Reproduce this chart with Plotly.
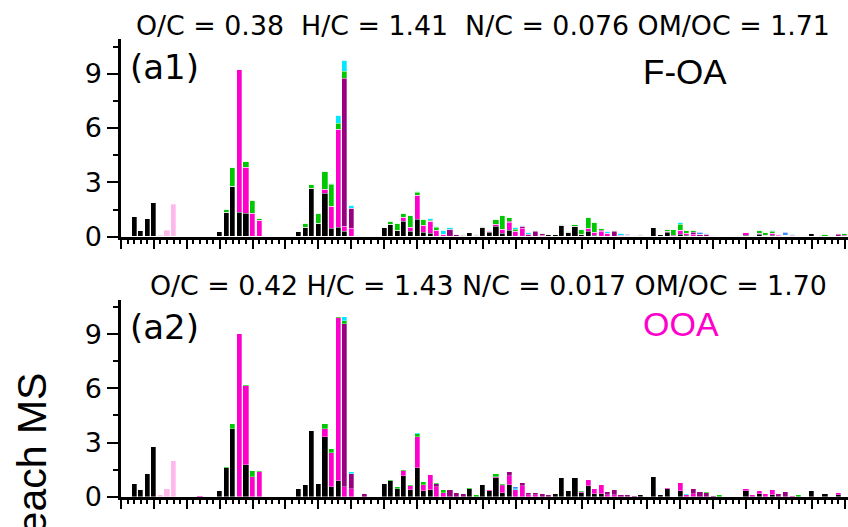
import plotly.graph_objects as go

# ---------------- data (m/z -> fraction of each MS, %) ----------------
MZ = list(range(12, 121))

FAMILIES = ["CH", "CHO1", "CHOgt1", "CHN", "CHO1N", "CHOgt1N", "HO"]
COLORS = {"CH": "#000000", "CHO1": "#FF00CC", "CHOgt1": "#990080",
          "CHN": "#00C800", "CHO1N": "#00E8FF", "CHOgt1N": "#3D8BFF", "HO": "#FFB8EC"}

# Panel a1 : F-OA
foa_CH = {12: 1.12, 13: 0.36, 14: 1.0, 15: 1.88, 25: 0.3, 26: 1.33, 27: 2.81, 28: 1.35, 29: 1.27,
          37: 0.3, 38: 0.52, 39: 2.68, 40: 0.74, 41: 2.42, 42: 0.44, 43: 0.54, 44: 0.28,
          48: 0.04, 50: 0.5, 51: 0.69, 52: 0.37, 53: 0.83, 54: 0.28, 55: 0.98, 56: 0.24, 57: 0.19,
          62: 0.07, 63: 0.25, 64: 0.08, 65: 0.5, 66: 0.22, 67: 0.59, 68: 0.19, 69: 0.33,
          75: 0.11, 76: 0.12, 77: 0.61, 78: 0.22, 79: 0.59, 80: 0.12, 81: 0.3, 82: 0.05,
          89: 0.1, 90: 0.05, 91: 0.52, 92: 0.11, 93: 0.22, 95: 0.15, 96: 0.1,
          103: 0.05, 105: 0.1, 106: 0.05, 107: 0.12, 108: 0.1, 109: 0.1, 111: 0.05, 115: 0.2, 118: 0.05}
foa_CHO1 = {22: 0.04, 28: 7.89, 29: 2.55, 30: 1.3, 31: 0.93, 32: 0.1, 41: 0.22, 42: 1.22, 43: 5.41,
            44: 0.3, 45: 0.44, 53: 0.24, 54: 0.24, 55: 1.33, 56: 0.37, 57: 0.68, 58: 0.37, 59: 0.15,
            66: 0.06, 67: 0.11, 68: 0.24, 69: 0.45, 70: 0.31, 71: 0.45, 74: 0.05, 80: 0.04, 81: 0.18,
            82: 0.17, 83: 0.3, 84: 0.17, 93: 0.07, 95: 0.22, 96: 0.1, 97: 0.12, 105: 0.12, 107: 0.08,
            109: 0.1, 110: 0.1}
foa_CHOgt1 = {44: 8.14, 45: 1.13, 47: 0.04, 49: 0.04, 60: 0.41, 61: 0.15, 69: 0.09, 71: 0.1,
              72: 0.15, 73: 0.3, 74: 0.12, 83: 0.05, 85: 0.3, 86: 0.1, 87: 0.1, 88: 0.05, 94: 0.05,
              97: 0.1, 98: 0.16, 99: 0.14, 100: 0.05, 104: 0.05, 110: 0.05, 112: 0.05, 113: 0.08,
              114: 0.05, 119: 0.12, 120: 0.05}
foa_CHN = {26: 0.2, 27: 1.0, 29: 0.34, 30: 0.73, 31: 0.09, 38: 0.2, 39: 0.22, 40: 0.56, 41: 0.95,
           42: 1.24, 43: 0.3, 44: 0.41, 51: 0.14, 52: 0.35, 53: 0.23, 54: 0.68, 55: 0.13, 56: 0.35,
           57: 0.04, 58: 0.17, 62: 0.05, 64: 0.04, 65: 0.05, 66: 0.09, 67: 0.28, 68: 0.76, 69: 0.2,
           70: 0.1, 73: 0.03, 75: 0.04, 77: 0.06, 78: 0.08, 79: 0.08, 80: 0.23, 81: 0.59, 82: 0.58,
           83: 0.13, 85: 0.03, 89: 0.05, 90: 0.03, 92: 0.04, 93: 0.1, 94: 0.34, 95: 0.3, 96: 0.17,
           97: 0.15, 103: 0.05, 104: 0.05, 106: 0.05, 107: 0.13, 108: 0.16, 109: 0.1, 117: 0.15,
           118: 0.05, 119: 0.08, 120: 0.12}
foa_CHO1N = {42: 0.07, 43: 0.48, 44: 0.63, 45: 0.19, 46: 0.05, 55: 0.09, 57: 0.12, 58: 0.06,
             59: 0.22, 60: 0.09, 70: 0.11, 71: 0.08, 72: 0.09, 84: 0.13, 86: 0.1, 95: 0.11, 99: 0.06,
             109: 0.07, 112: 0.1}
foa_CHOgt1N = {87: 0.05, 98: 0.06, 111: 0.17}
foa_HO = {16: 0.08, 17: 0.37, 18: 1.77}

# Panel a2 : OOA
ooa_CH = {12: 0.72, 13: 0.35, 14: 1.28, 15: 2.77, 25: 0.3, 26: 1.6, 27: 3.75, 29: 1.76,
          37: 0.45, 38: 0.67, 39: 3.62, 40: 0.72, 41: 3.32, 42: 0.52, 43: 0.89,
          50: 0.69, 51: 0.89, 52: 0.45, 53: 1.15, 54: 0.37, 55: 1.6, 56: 0.3, 57: 0.35, 63: 0.45,
          65: 0.67, 66: 0.32, 67: 1.06, 68: 0.19, 69: 0.63, 76: 0.13, 77: 1.02, 78: 0.33, 79: 1.06,
          80: 0.19, 81: 0.61, 82: 0.15, 83: 0.15, 89: 0.1, 91: 1.1, 92: 0.12, 93: 0.43, 95: 0.33,
          105: 0.3, 107: 0.15, 109: 0.1, 115: 0.32, 117: 0.17, 119: 0.12}
ooa_CHO1 = {22: 0.03, 28: 9.02, 29: 4.36, 30: 1.11, 31: 1.36, 41: 0.43, 42: 1.89, 43: 9.0, 44: 0.52,
            45: 0.41, 53: 0.25, 54: 0.24, 55: 1.72, 56: 0.35, 57: 0.84, 58: 0.56, 59: 0.19,
            66: 0.05, 67: 0.05, 68: 0.41, 69: 0.52, 70: 0.39, 71: 0.6, 72: 0.08, 73: 0.08, 80: 0.05,
            81: 0.3, 82: 0.26, 83: 0.5, 84: 0.1, 85: 0.12, 93: 0.05, 95: 0.45, 96: 0.1, 97: 0.15,
            105: 0.15, 106: 0.1, 107: 0.18, 108: 0.17, 109: 0.27, 112: 0.05, 119: 0.08}
ooa_CHOgt1 = {44: 9.03, 45: 0.84, 47: 0.15, 58: 0.16, 60: 0.37, 61: 0.22, 62: 0.15, 68: 0.04,
              69: 0.21, 71: 0.18, 72: 0.11, 73: 0.12, 74: 0.17, 75: 0.1, 84: 0.18, 85: 0.25,
              86: 0.12, 87: 0.12, 88: 0.05, 97: 0.28, 98: 0.24, 99: 0.2, 100: 0.05, 110: 0.15, 111: 0.26}
ooa_CHN = {26: 0.05, 27: 0.3, 29: 0.05, 30: 0.32, 31: 0.04, 41: 0.3, 42: 0.24, 43: 0.06, 44: 0.17,
           51: 0.04, 52: 0.11, 53: 0.08, 54: 0.06, 55: 0.15, 56: 0.17, 58: 0.04, 59: 0.18, 63: 0.03,
           64: 0.1, 67: 0.14, 68: 0.06, 80: 0.08, 99: 0.06, 101: 0.08, 113: 0.08}
ooa_CHO1N = {44: 0.22, 45: 0.12, 55: 0.05, 70: 0.06, 96: 0.07}
ooa_CHOgt1N = {70: 0.07}
ooa_HO = {16: 0.07, 17: 0.45, 18: 2.0}

TITLE_A1 = "O/C = 0.38\u00a0 H/C = 1.41\u00a0 N/C = 0.076 OM/OC = 1.71"
TITLE_A2 = "O/C = 0.42 H/C = 1.43 N/C = 0.017 OM/OC = 1.70"
Y_TICKS = [0, 3, 6, 9]

panels = [
    ("x2", "y2", {"CH": foa_CH, "CHO1": foa_CHO1, "CHOgt1": foa_CHOgt1, "CHN": foa_CHN,
                  "CHO1N": foa_CHO1N, "CHOgt1N": foa_CHOgt1N, "HO": foa_HO}),
    ("x", "y", {"CH": ooa_CH, "CHO1": ooa_CHO1, "CHOgt1": ooa_CHOgt1, "CHN": ooa_CHN,
                "CHO1N": ooa_CHO1N, "CHOgt1N": ooa_CHOgt1N, "HO": ooa_HO}),
]

FONT = "Liberation Sans, Arial, sans-serif"
FONT_W = "DejaVu Sans, sans-serif"
fig = go.Figure()
for xa, ya, fam in panels:
    for f in FAMILIES:
        vals = [fam[f].get(m, 0) for m in MZ]
        fig.add_trace(go.Bar(x=MZ, y=vals, xaxis=xa, yaxis=ya, width=0.78, name=f,
                             marker=dict(color=COLORS[f], line=dict(width=0.3, color="white")),
                             showlegend=False))

W, H = 848, 527
XR = [10, 120.5]
dom1 = [1 - 236.7 / H, 1 - 39.3 / H]
dom2 = [1 - 496.7 / H, 1 - 300 / H]

def xax(anchor, overlay=None):
    d = dict(range=XR, domain=[0, 1], anchor=anchor, showgrid=False, zeroline=False,
             showticklabels=False, ticks="outside", tickcolor="black", automargin=False)
    if overlay is None:
        d.update(showline=True, linewidth=2.5, linecolor="black", tick0=10, dtick=5,
                 ticklen=10, tickwidth=2,
                 minor=dict(ticks="outside", tick0=10, dtick=1, ticklen=5, tickwidth=1.5,
                            tickcolor="black", showgrid=False))
    else:
        d.update(overlaying=overlay, showline=False, tick0=10, dtick=10, ticklen=14, tickwidth=2.2)
    return d

def yax(domain, anchor):
    return dict(range=[0, 10.9], domain=domain, anchor=anchor, showgrid=False, zeroline=False,
                showline=True, linewidth=2.5, linecolor="black", ticks="outside",
                tickvals=Y_TICKS, ticklen=11, tickwidth=2, tickcolor="black",
                ticklabelstandoff=0, automargin=False,
                minor=dict(ticks="outside", tickvals=[1.5, 4.5, 7.5, 10.5], ticklen=5,
                           tickwidth=2, tickcolor="black", showgrid=False),
                tickfont=dict(size=27, color="black", family=FONT_W))

def px(xp, yp):
    return dict(xref="paper", yref="paper", x=(xp - 121) / (W - 121), y=1 - yp / H)

ann = []
ann.append(dict(text=TITLE_A1, **px(483, 26), xanchor="center", yanchor="middle", showarrow=False,
                font=dict(size=26.8, color="black", family=FONT_W)))
ann.append(dict(text=TITLE_A2, **px(488, 285), xanchor="center", yanchor="middle", showarrow=False,
                font=dict(size=26.8, color="black", family=FONT_W)))
ann.append(dict(text="(a1)", **px(164, 67), xanchor="center", yanchor="middle", showarrow=False,
                font=dict(size=34, color="black", family=FONT_W)))
ann.append(dict(text="(a2)", **px(164, 327), xanchor="center", yanchor="middle", showarrow=False,
                font=dict(size=34, color="black", family=FONT_W)))
ann.append(dict(text="F-OA", **px(685, 72), xanchor="center", yanchor="middle", showarrow=False,
                font=dict(size=35, color="black", family=FONT)))
ann.append(dict(text="OOA", **px(681, 324), xanchor="center", yanchor="middle", showarrow=False,
                font=dict(size=34, color="#FF00CC", family=FONT)))
ann.append(dict(text="Fraction of each MS", **px(31, 371), xanchor="center", yanchor="top",
                textangle=-90, showarrow=False, font=dict(size=41, color="black", family=FONT)))

fig.update_layout(
    width=W, height=H, barmode="stack", bargap=0,
    margin=dict(l=121, r=0, t=0, b=0),
    paper_bgcolor="white", plot_bgcolor="white",
    xaxis=xax("y"), xaxis2=xax("y2"),
    xaxis3=xax("y", overlay="x"), xaxis4=xax("y2", overlay="x2"),
    yaxis=yax(dom2, "x"), yaxis2=yax(dom1, "x2"),
    annotations=ann,
    font=dict(family=FONT),
)

fig.write_html("out.html", config={"displayModeBar": False},
               post_script="document.body.style.margin='0';")
